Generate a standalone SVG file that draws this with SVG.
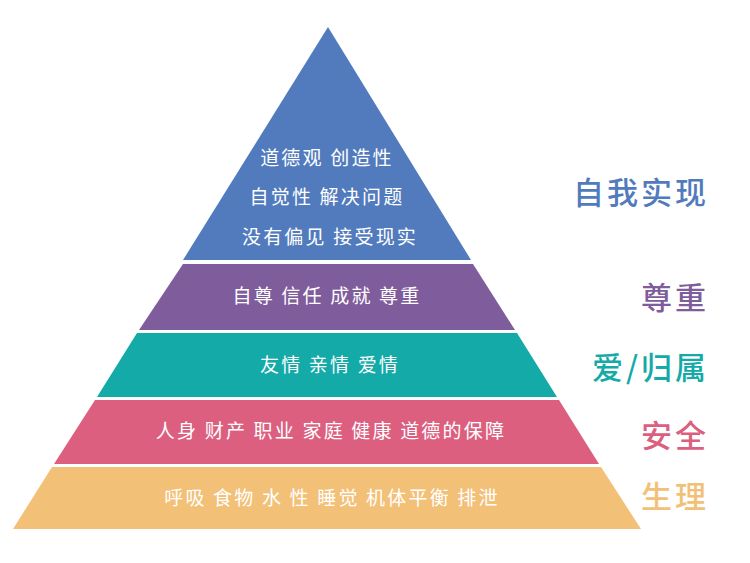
<svg xmlns="http://www.w3.org/2000/svg" width="750" height="563" viewBox="0 0 750 563">
<style>
.t{font-family:"Noto Sans CJK SC","Noto Sans",sans-serif;font-size:19px;fill:#ffffff;text-anchor:middle;letter-spacing:2.2px}
.l{font-family:"Noto Sans CJK SC","Noto Sans",sans-serif;font-size:31px;font-weight:500;text-anchor:end;letter-spacing:3px}
</style>
<rect width="750" height="563" fill="#ffffff"/>
<g id="level5">
<polygon points="328,27 471,260 183,260" fill="#527bbd"/>
<text class="t" x="327" y="165">道德观 创造性</text>
<text class="t" x="327" y="204">自觉性 解决问题</text>
<text class="t" x="330" y="244">没有偏见 接受现实</text>
<text class="l" x="709" y="204" fill="#527bbd">自我实现</text>
</g>
<g id="level4">
<polygon points="183,264 473,264 515,330 139,330" fill="#7f5c9c"/>
<text class="t" x="327" y="303">自尊 信任 成就 尊重</text>
<text class="l" x="709" y="309" fill="#7f5c9c">尊重</text>
</g>
<g id="level3">
<polygon points="137,333 517,333 557,397 97,397" fill="#13aaa8"/>
<text class="t" x="330" y="372">友情 亲情 爱情</text>
<text class="l" x="709" y="379" fill="#13aaa8">爱/归属</text>
</g>
<g id="level2">
<polygon points="95,400 559,400 599,464 54,464" fill="#dc5f7f"/>
<text class="t" x="331" y="438">人身 财产 职业 家庭 健康 道德的保障</text>
<text class="l" x="709" y="447" fill="#dc5f7f">安全</text>
</g>
<g id="level1">
<polygon points="52,467 601,467 641,529 13,529" fill="#f3c077"/>
<text class="t" x="332" y="505">呼吸 食物 水 性 睡觉 机体平衡 排泄</text>
<text class="l" x="709" y="508" fill="#f3c077">生理</text>
</g>
</svg>
